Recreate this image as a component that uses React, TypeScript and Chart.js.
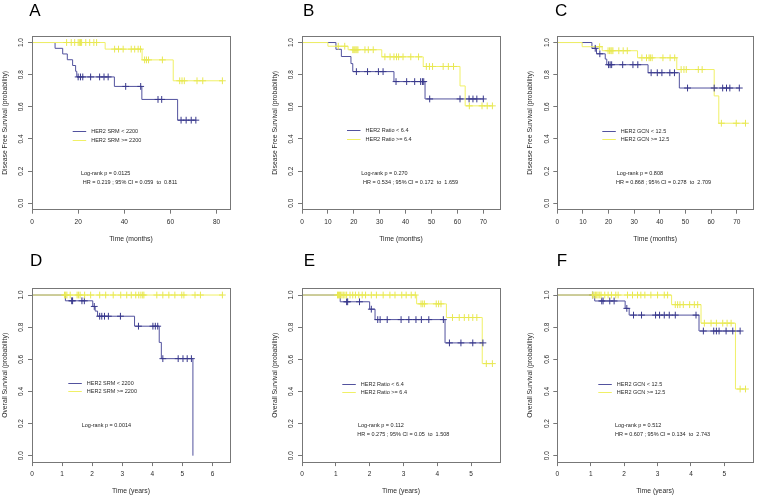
import React, { useEffect, useRef } from 'react';
import { Chart, registerables } from 'chart.js';
Chart.register(...registerables);

const FONT = "'Liberation Sans', Arial, Helvetica, sans-serif";
const BLUE_LINE = '#52529e';
const BLUE_MARK = '#38388c';
const YEL_LINE = '#f0f066';
const YEL_MARK = '#e8e852';
const BOX = '#777777';
const TEXT = '#2a2a2a';

// ---------- tick labels ----------
const yTicks = [0, 0.2, 0.4, 0.6, 0.8, 1.0];
const ticksA = [0, 20, 40, 60, 80];
const ticksBC = [0, 10, 20, 30, 40, 50, 60, 70];
const ticksD = [0, 1, 2, 3, 4, 5, 6];
const ticksEF = [0, 1, 2, 3, 4, 5];

const dfsTitle = 'Disease Free Survival (probability)';
const osTitle = 'Overall Survival (probability)';
const monthsTitle = 'Time (months)';
const yearsTitle = 'Time (years)';

const srmLegend = ['HER2 SRM < 2200', 'HER2 SRM >= 2200'];
const ratioLegend = ['HER2 Ratio < 6.4', 'HER2 Ratio >= 6.4'];
const gcnLegend = ['HER2 GCN < 12.5', 'HER2 GCN >= 12.5'];

const aStats = ['Log-rank p = 0.0125', 'HR = 0.219 ; 95% CI = 0.059  to  0.811'];
const bStats = ['Log-rank p = 0.270', 'HR = 0.534 ; 95% CI = 0.172  to  1.659'];
const cStats = ['Log-rank p = 0.808', 'HR = 0.868 ; 95% CI = 0.278  to  2.709'];
const dStats = ['Log-rank p = 0.0014'];
const eStats = ['Log-rank p = 0.112', 'HR = 0.275 ; 95% CI = 0.05  to  1.508'];
const fStats = ['Log-rank p = 0.512', 'HR = 0.607 ; 95% CI = 0.134  to  2.743'];

// ---------- Kaplan-Meier data: [time, survival] step points; censor marks by level ----------
// Panel A (DFS, SRM)
const aLoSteps = [[0, 1], [10, 0.964], [13.3, 0.929], [15.3, 0.893], [17.6, 0.857], [18.9, 0.821], [19.4, 0.786], [35.7, 0.727], [47.6, 0.646], [63.1, 0.517], [71, 0.517]];
const aLoCens = [
  { s: 0.786, t: [20, 21, 22, 25.4, 29.3, 31.2, 33] },
  { s: 0.727, t: [40.6, 47.1] },
  { s: 0.646, t: [54.6, 56.2] },
  { s: 0.517, t: [64.6, 66.8, 69, 71] },
];
const aHiSteps = [[0, 1], [31.7, 0.959], [47.7, 0.892], [61.2, 0.762], [82.5, 0.762]];
const aHiCens = [
  { s: 1.0, t: [15, 17, 18.5, 20, 20.5, 21, 21.5, 23.3, 25, 26.8, 28] },
  { s: 0.959, t: [35.8, 37.5, 39.5, 43, 44.5, 46, 47] },
  { s: 0.892, t: [48.8, 49.6, 50.5, 56.5] },
  { s: 0.762, t: [64, 65, 66, 71.5, 74, 82.5] },
];

// Panel B (DFS, Ratio)
const bLoSteps = [[0, 1], [13.1, 0.958], [15.2, 0.913], [18.9, 0.869], [19.6, 0.819], [35.5, 0.757], [47.5, 0.649], [70, 0.649]];
const bLoCens = [
  { s: 0.819, t: [21, 25.3, 29.5, 31.3] },
  { s: 0.757, t: [36.3, 40.4, 43.5, 45.8, 46.5, 47] },
  { s: 0.649, t: [49.3, 61, 64.5, 66, 67.5, 70] },
];
const bHiSteps = [[0, 1], [10, 0.977], [17.8, 0.955], [30.8, 0.911], [46.8, 0.851], [61, 0.73], [63, 0.606], [73.5, 0.606]];
const bHiCens = [
  { s: 0.977, t: [14, 16.5] },
  { s: 0.955, t: [19.6, 20, 20.4, 20.8, 21.2, 21.6, 24.3, 25.6, 27.5] },
  { s: 0.911, t: [32, 34, 35.5, 36.5, 37.3, 39, 42, 45] },
  { s: 0.851, t: [48, 49.2, 50.4, 54.5, 56.5, 58.5] },
  { s: 0.606, t: [64.6, 69.5, 71.5, 73.5] },
];

// Panel C (DFS, GCN)
const cLoSteps = [[0, 1], [13.5, 0.964], [15.3, 0.93], [18.7, 0.897], [19.3, 0.862], [35.4, 0.812], [47.6, 0.717], [71, 0.717]];
const cLoCens = [
  { s: 0.964, t: [14.8] },
  { s: 0.93, t: [16.6] },
  { s: 0.862, t: [20, 20.6, 21.2, 25.5, 29.5, 31.4] },
  { s: 0.812, t: [36.6, 39, 40.8, 43.9, 45.7] },
  { s: 0.717, t: [50.8, 61.2, 64.5, 66, 67.3, 71] },
];
const cHiSteps = [[0, 1], [9.7, 0.974], [17.5, 0.949], [31.3, 0.905], [46.6, 0.832], [61.2, 0.668], [63, 0.498], [73.4, 0.498]];
const cHiCens = [
  { s: 0.974, t: [16.5] },
  { s: 0.949, t: [19.8, 20.4, 20.9, 21.3, 21.7, 24, 25.7, 27.3] },
  { s: 0.905, t: [33, 34.8, 35.8, 36.3, 37, 41.2, 44, 45.8] },
  { s: 0.832, t: [48.3, 49.4, 50.3, 55, 56.5] },
  { s: 0.498, t: [64, 69.8, 73.4] },
];

// Panel D (OS, SRM)
const dLoSteps = [[0, 1], [1.11, 0.964], [2.02, 0.929], [2.1, 0.9], [2.18, 0.868], [3.41, 0.806], [4.23, 0.705], [4.3, 0.604], [5.35, 0]];
const dLoCens = [
  { s: 0.964, t: [1.32, 1.35, 1.66, 1.74] },
  { s: 0.929, t: [2.07] },
  { s: 0.868, t: [2.25, 2.32, 2.41, 2.54, 2.94] },
  { s: 0.806, t: [3.54, 4.02, 4.1, 4.18] },
  { s: 0.604, t: [4.35, 4.86, 5.02, 5.16, 5.3] },
];
const dHiSteps = [[0, 1], [6.33, 1]];
const dHiCens = [
  { s: 1.0, t: [1.08, 1.12, 1.16, 1.27, 1.5, 1.55, 1.6, 1.75, 1.95, 2.25, 2.45, 2.7, 2.95, 3.15, 3.3, 3.45, 3.55, 3.62, 3.68, 3.72, 4.15, 4.35, 4.55, 4.75, 4.98, 5.05, 5.42, 5.6, 6.33] },
];

// Panel E (OS, Ratio)
const eLoSteps = [[0, 1], [1.13, 0.958], [2.0, 0.912], [2.16, 0.847], [4.23, 0.702], [5.35, 0.702]];
const eLoCens = [
  { s: 0.958, t: [1.32, 1.35, 1.7] },
  { s: 0.912, t: [2.05] },
  { s: 0.847, t: [2.24, 2.31, 2.52, 2.93, 3.16, 3.37, 3.53, 3.75, 4.18] },
  { s: 0.702, t: [4.36, 4.7, 5.05, 5.35] },
];
const eHiSteps = [[0, 1], [3.39, 0.945], [4.27, 0.86], [5.33, 0.573], [5.63, 0.573]];
const eHiCens = [
  { s: 1.0, t: [1.05, 1.08, 1.11, 1.14, 1.18, 1.22, 1.27, 1.32, 1.42, 1.5, 1.58, 1.68, 1.78, 1.88, 2.05, 2.2, 2.4, 2.6, 2.75, 2.95, 3.08, 3.23, 3.35] },
  { s: 0.945, t: [3.52, 3.57, 3.62, 3.97, 4.04, 4.11] },
  { s: 0.86, t: [4.45, 4.65, 4.8, 4.93, 5.05, 5.17] },
  { s: 0.573, t: [5.45, 5.63] },
];

// Panel F (OS, GCN)
const fLoSteps = [[0, 1], [1.12, 0.963], [2.03, 0.917], [2.15, 0.875], [4.24, 0.776], [5.47, 0.776]];
const fLoCens = [
  { s: 1.0, t: [1.06] },
  { s: 0.963, t: [1.33, 1.37, 1.57, 1.7] },
  { s: 0.917, t: [2.08] },
  { s: 0.875, t: [2.28, 2.52, 2.94, 3.06, 3.2, 3.35, 3.53, 4.15] },
  { s: 0.776, t: [4.37, 4.68, 4.76, 4.84, 5.05, 5.25, 5.47] },
];
const fHiSteps = [[0, 1], [3.42, 0.94], [4.3, 0.825], [5.33, 0.415], [5.63, 0.415]];
const fHiCens = [
  { s: 1.0, t: [1.05, 1.1, 1.14, 1.18, 1.22, 1.27, 1.31, 1.42, 1.52, 1.62, 1.75, 1.82, 2.1, 2.25, 2.4, 2.5, 2.62, 2.8, 3.0, 3.2, 3.3] },
  { s: 0.94, t: [3.53, 3.6, 3.67, 3.77, 3.96, 4.1, 4.2] },
  { s: 0.825, t: [4.4, 4.6, 4.76, 4.95, 5.08, 5.2] },
  { s: 0.415, t: [5.47, 5.63] },
];

// ---------- layout ----------
type Cens = { s: number; t: number[] }[];
interface Panel {
  letter: string;
  letterPos: number[];
  lo: number[][];
  loCens: Cens;
  hi: number[][];
  hiCens: Cens;
  xTicks: number[];
  xTitle: string;
  yTitle: string;
  legend: string[];
  stats: string[];
  cell: number[];
  area: number[];
  legendPos: number[];
  statsPos: number[][];
}

const AREA_W = 198;
const YW = 32;
const XH = 33.4;

const panels: Panel[] = [
  { letter: 'A', letterPos: [29.3, 4], lo: aLoSteps, loCens: aLoCens, hi: aHiSteps, hiCens: aHiCens, xTicks: ticksA, xTitle: monthsTitle, yTitle: dfsTitle, legend: srmLegend, stats: aStats, cell: [0, 0, 253, 249], area: [32, 36.1, 209.7], legendPos: [40.7, 95.6], statsPos: [[49, 137.6], [50.7, 146]] },
  { letter: 'B', letterPos: [303, 4], lo: bLoSteps, loCens: bLoCens, hi: bHiSteps, hiCens: bHiCens, xTicks: ticksBC, xTitle: monthsTitle, yTitle: dfsTitle, legend: ratioLegend, stats: bStats, cell: [253, 0, 252, 249], area: [302, 36.1, 209.7], legendPos: [45, 94.8], statsPos: [[59.3, 137.6], [61, 146]] },
  { letter: 'C', letterPos: [555, 4], lo: cLoSteps, loCens: cLoCens, hi: cHiSteps, hiCens: cHiCens, xTicks: ticksBC, xTitle: monthsTitle, yTitle: dfsTitle, legend: gcnLegend, stats: cStats, cell: [505, 0, 253, 249], area: [557.3, 36.1, 209.7], legendPos: [45, 94.9], statsPos: [[59.4, 137.6], [58.7, 146]] },
  { letter: 'D', letterPos: [30, 254.5], lo: dLoSteps, loCens: dLoCens, hi: dHiSteps, hiCens: dHiCens, xTicks: ticksD, xTitle: yearsTitle, yTitle: osTitle, legend: srmLegend, stats: dStats, cell: [0, 249, 253, 250], area: [32, 288.6, 462.1], legendPos: [36.3, 94.7], statsPos: [[49.7, 137.1]] },
  { letter: 'E', letterPos: [303.7, 254.5], lo: eLoSteps, loCens: eLoCens, hi: eHiSteps, hiCens: eHiCens, xTicks: ticksEF, xTitle: yearsTitle, yTitle: osTitle, legend: ratioLegend, stats: eStats, cell: [253, 249, 252, 250], area: [302, 288.6, 462.1], legendPos: [40.3, 95.4], statsPos: [[56, 137.1], [55.3, 145.7]] },
  { letter: 'F', letterPos: [556.7, 254.5], lo: fLoSteps, loCens: fLoCens, hi: fHiSteps, hiCens: fHiCens, xTicks: ticksEF, xTitle: yearsTitle, yTitle: osTitle, legend: gcnLegend, stats: fStats, cell: [505, 249, 253, 250], area: [557.3, 288.6, 462.1], legendPos: [41, 95.4], statsPos: [[57.7, 137.1], [57.7, 146.1]] },
];

const toPts = (s: number[][]) => s.map(([x, y]) => ({ x, y }));
const censPts = (c: Cens) => c.flatMap((g) => g.t.map((t) => ({ x: t, y: g.s })));

function KMPanel({ p }: { p: Panel }) {
  const ref = useRef<HTMLCanvasElement>(null);
  const [cx, cy, cw, ch] = p.cell;

  useEffect(() => {
    const [al, at, ab] = p.area;
    const allT = [
      ...p.lo.map((d) => d[0]),
      ...p.hi.map((d) => d[0]),
      ...p.loCens.flatMap((g) => g.t),
      ...p.hiCens.flatMap((g) => g.t),
    ];
    const xMax = Math.max(...allT) * 1.04;

    const align = (v: number) => Math.round(v - 0.5) + 0.5;

    const boxPlugin = {
      id: 'kmBox',
      afterDraw(chart: any) {
        const { ctx, chartArea: a } = chart;
        ctx.save();
        ctx.strokeStyle = BOX;
        ctx.lineWidth = 1;
        const l = align(a.left), t = align(a.top), r = align(a.right), b = align(a.bottom);
        ctx.strokeRect(l, t, r - l, b - t);
        ctx.restore();
      },
    };

    const notesPlugin = {
      id: 'kmNotes',
      afterDraw(chart: any) {
        const { ctx, chartArea: a } = chart;
        ctx.save();
        const [ldx, ldy] = p.legendPos;
        [BLUE_LINE, YEL_LINE].forEach((c, i) => {
          const y = align(a.top + ldy + i * 8.6);
          ctx.strokeStyle = c;
          ctx.lineWidth = 1;
          ctx.beginPath();
          ctx.moveTo(a.left + ldx, y);
          ctx.lineTo(a.left + ldx + 13.5, y);
          ctx.stroke();
          ctx.fillStyle = TEXT;
          ctx.font = `5.5px ${FONT}`;
          ctx.textBaseline = 'middle';
          ctx.textAlign = 'left';
          ctx.fillText(p.legend[i], a.left + ldx + 18.5, y);
        });
        p.stats.forEach((s, i) => {
          const [sx, sy] = p.statsPos[i];
          ctx.fillStyle = '#1c1c1c';
          ctx.font = `5.5px ${FONT}`;
          ctx.textBaseline = 'middle';
          ctx.textAlign = 'left';
          ctx.fillText(s, a.left + sx, a.top + sy);
        });
        ctx.restore();
      },
    };

    const lineDs = (data: number[][], color: string) => ({
      data: toPts(data),
      borderColor: color,
      borderWidth: 1,
      stepped: true,
      pointRadius: 0,
      fill: false,
      showLine: true,
    });
    const censDs = (c: Cens, color: string) => ({
      data: censPts(c),
      showLine: false,
      pointStyle: 'cross',
      pointRadius: 3.4,
      pointBorderWidth: 1,
      pointBorderColor: color,
      pointBackgroundColor: color,
      borderColor: color,
    });

    const tickFont = { family: FONT, size: 6.5 };
    const titleFont = { family: FONT, size: 6.8 };

    const chart = new Chart(ref.current as HTMLCanvasElement, {
      type: 'line',
      data: {
        datasets: [
          censDs(p.hiCens, YEL_MARK),
          censDs(p.loCens, BLUE_MARK),
          lineDs(p.hi, YEL_LINE),
          lineDs(p.lo, BLUE_LINE),
        ] as any,
      },
      options: {
        animation: false,
        responsive: false,
        maintainAspectRatio: false,
        events: [],
        layout: {
          padding: {
            left: al - cx - YW,
            top: at - cy,
            right: cx + cw - (al + AREA_W),
            bottom: cy + ch - ab - XH,
          },
        },
        plugins: { legend: { display: false }, tooltip: { enabled: false } },
        scales: {
          x: {
            type: 'linear',
            min: 0,
            max: xMax,
            afterBuildTicks: (s: any) => {
              s.ticks = p.xTicks.map((v) => ({ value: v }));
            },
            afterFit: (s: any) => {
              s.height = XH;
            },
            ticks: {
              font: tickFont,
              color: TEXT,
              padding: 4.4,
              maxRotation: 0,
              minRotation: 0,
              autoSkip: false,
              callback: (v: any) => String(v),
            },
            grid: { drawOnChartArea: false, drawTicks: true, tickLength: 4, color: BOX, lineWidth: 1 },
            border: { display: false },
            title: { display: true, text: p.xTitle, font: titleFont, color: TEXT, padding: 0 },
          },
          y: {
            type: 'linear',
            min: -0.04,
            max: 1.04,
            afterBuildTicks: (s: any) => {
              s.ticks = yTicks.map((v) => ({ value: v }));
            },
            afterFit: (s: any) => {
              s.width = YW;
            },
            ticks: {
              font: tickFont,
              color: TEXT,
              padding: 2,
              minRotation: 90,
              maxRotation: 90,
              crossAlign: 'center',
              autoSkip: false,
              callback: (v: any) => Number(v).toFixed(1),
            },
            grid: { drawOnChartArea: false, drawTicks: true, tickLength: 4, color: BOX, lineWidth: 1 },
            border: { display: false },
            title: { display: true, text: p.yTitle, font: titleFont, color: TEXT, padding: { top: 0.9, bottom: 0 } },
          },
        },
      } as any,
      plugins: [boxPlugin, notesPlugin],
    });
    return () => chart.destroy();
  }, [p]);

  return (
    <canvas
      ref={ref}
      width={cw}
      height={ch}
      style={{ position: 'absolute', left: cx, top: cy, width: cw, height: ch }}
    />
  );
}

export default function App() {
  return (
    <div
      style={{
        position: 'fixed',
        left: 0,
        top: 0,
        width: 758,
        height: 499,
        background: '#ffffff',
        overflow: 'hidden',
      }}
    >
      {panels.map((p) => (
        <KMPanel key={p.letter} p={p} />
      ))}
      {panels.map((p) => (
        <div
          key={'L' + p.letter}
          style={{
            position: 'absolute',
            left: p.letterPos[0],
            top: p.letterPos[1] - 2.2,
            fontFamily: FONT,
            fontSize: 17,
            lineHeight: '17px',
            color: '#000',
          }}
        >
          {p.letter}
        </div>
      ))}
    </div>
  );
}
